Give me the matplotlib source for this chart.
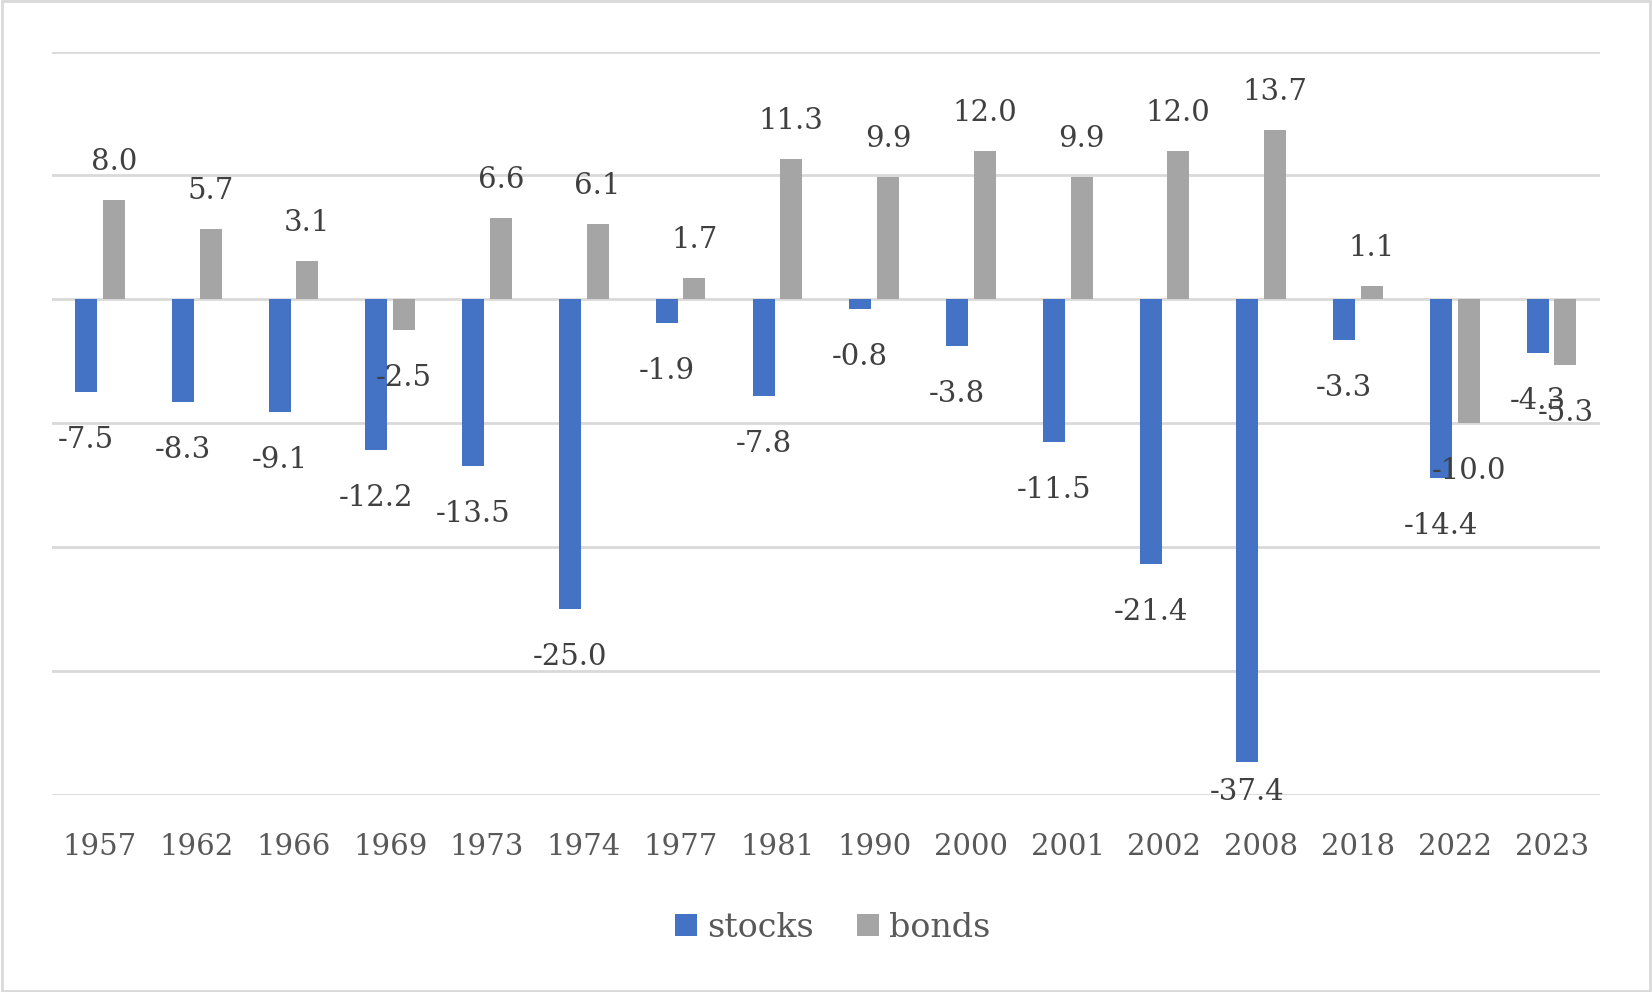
import matplotlib.pyplot as plt
from matplotlib.patches import Rectangle
import numpy as np

years = ["1957", "1962", "1966", "1969", "1973", "1974", "1977", "1981",
         "1990", "2000", "2001", "2002", "2008", "2018", "2022", "2023"]
stocks = [-7.5, -8.3, -9.1, -12.2, -13.5, -25.0, -1.9, -7.8,
          -0.8, -3.8, -11.5, -21.4, -37.4, -3.3, -14.4, -4.3]
bonds = [8.0, 5.7, 3.1, -2.5, 6.6, 6.1, 1.7, 11.3,
         9.9, 12.0, 9.9, 12.0, 13.7, 1.1, -10.0, -5.3]

plt.rcParams['font.family'] = ['DejaVu Serif']
blue = '#4472C4'
gray = '#A5A5A5'

fig = plt.figure(figsize=(16.52, 9.92), dpi=100)
ax = fig.add_axes([0.0312, 0.199, 0.9373, 0.749])

x = np.arange(len(years))
w = 0.227
b1 = ax.bar(x - 0.143, stocks, w, color=blue, label='stocks', zorder=3)
b2 = ax.bar(x + 0.143, bonds, w, color=gray, label='bonds', zorder=3)

ax.set_ylim(-40, 20)
ax.set_xlim(-0.5, 15.5)

# data labels, kept inside the plot area like Excel does
bottom_px = ax.transData.transform((0, -40))[1]
inv = ax.transData.inverted()
for bars, vals in [(b1, stocks), (b2, bonds)]:
    for rect, v in zip(bars, vals):
        cx = rect.get_x() + rect.get_width() / 2
        end_px = ax.transData.transform((cx, v))[1]
        if v >= 0:
            ypx = end_px + 38
        else:
            ypx = max(end_px - 48, bottom_px + 3)
        ty = inv.transform((0, ypx))[1]
        ax.text(cx, ty, f"{v:.1f}", ha='center', va='center', fontsize=21,
                color='#404040', zorder=5)

ax.set_yticks(np.arange(-40, 21, 10))
ax.yaxis.grid(True, color='#D9D9D9', linewidth=2, zorder=0)
ax.set_yticklabels([])
ax.tick_params(axis='y', length=0)
ax.set_xticks(x)
ax.set_xticklabels(years, fontsize=21, color='#595959')
ax.tick_params(axis='x', length=0, pad=28)
for s in ax.spines.values():
    s.set_visible(False)

fig.legend(handles=[b1, b2], loc='center', bbox_to_anchor=(0.504, 0.065), ncol=2,
           frameon=False, fontsize=24, labelcolor='#595959', handlelength=0.66,
           handleheight=0.66, handletextpad=0.3, columnspacing=1.3)

fig.patches.append(Rectangle((0.001, 0.001), 0.998, 0.998, transform=fig.transFigure,
                             fill=False, edgecolor='#D9D9D9', linewidth=2))

fig.savefig('out.png', dpi=100)
